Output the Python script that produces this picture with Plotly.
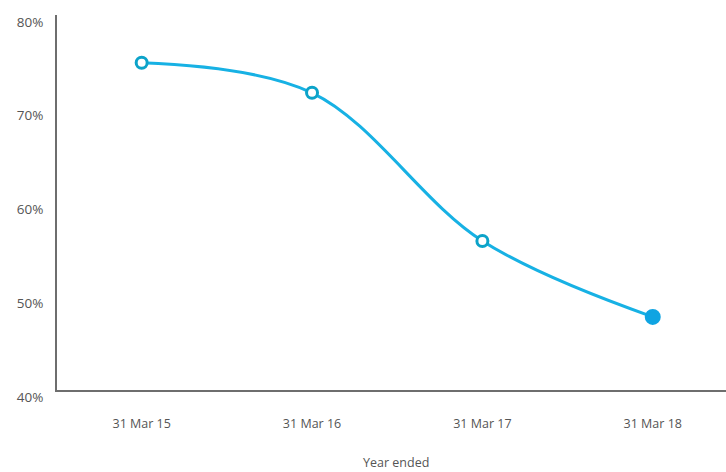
import plotly.graph_objects as go

# Year-end ratio series
years = ["31 Mar 15", "31 Mar 16", "31 Mar 17", "31 Mar 18"]
ratio = [74.9, 71.7, 55.9, 47.8]
y_ticks = [40, 50, 60, 70, 80]
y_tick_text = ["40%", "50%", "60%", "70%", "80%"]

LINE = "#17b1e4"
RING = "#0ca3c9"
DOT = "#0fa4e2"

fig = go.Figure()

fig.add_trace(go.Scatter(
    x=list(range(len(years))),
    y=ratio,
    mode="lines",
    line=dict(color=LINE, width=3, shape="spline", smoothing=1.0),
    hoverinfo="skip",
    showlegend=False,
))

# open markers for earlier years, filled marker for the latest
n = len(years)
fig.add_trace(go.Scatter(
    x=list(range(n)),
    y=ratio,
    mode="markers",
    marker=dict(
        size=[11] * (n - 1) + [13],
        color=["white"] * (n - 1) + [DOT],
        line=dict(color=[RING] * (n - 1) + [DOT], width=3),
        opacity=1,
    ),
    showlegend=False,
))

fig.update_layout(
    width=726, height=472,
    margin=dict(l=57, r=0, t=15, b=82),
    paper_bgcolor="white",
    plot_bgcolor="white",
    font=dict(family="Open Sans, sans-serif", size=12, color="#555555"),
    xaxis=dict(
        range=[-0.497, 3.43],
        tickmode="array",
        tickvals=list(range(n)),
        ticktext=years,
        showgrid=False, zeroline=False,
        showline=True, linecolor="#6e6e6e", linewidth=2,
        ticks="", ticklabelstandoff=21,
        tickfont=dict(size=12.5, color="#555555"),
    ),
    yaxis=dict(
        range=[40, 80],
        tickmode="array",
        tickvals=y_ticks,
        ticktext=y_tick_text,
        showgrid=False, zeroline=False,
        showline=True, linecolor="#6e6e6e", linewidth=2,
        ticks="", ticklabelstandoff=9, ticklabelshift=7,
        tickfont=dict(size=13.5, color="#555555"),
    ),
)

# axis title sits low in the bottom margin
fig.add_annotation(
    text="Year ended",
    xref="paper", yref="paper",
    x=(396 - 57) / 669, y=-(462 - 390) / 375,
    xanchor="center", yanchor="middle",
    showarrow=False,
    font=dict(size=12.5, color="#555555"),
)

fig.write_html("out.html")
